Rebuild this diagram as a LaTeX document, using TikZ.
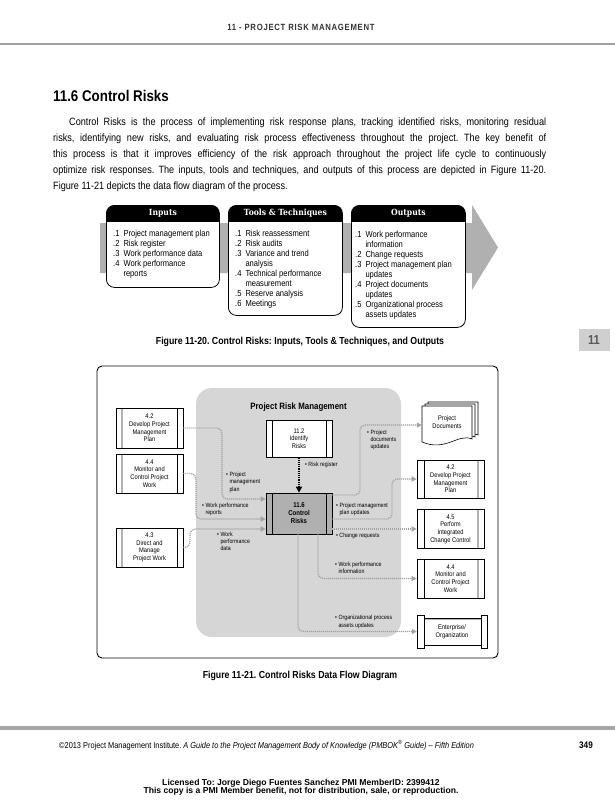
\documentclass[tikz,border=0pt]{standalone}
\usepackage{fontspec}
\setmainfont{Liberation Sans}[FakeStretch=0.86]
\newfontfamily\slabf{DejaVu Serif}[FakeStretch=0.9]
\newfontfamily\wideSans{Liberation Sans}
\usetikzlibrary{arrows.meta}
\frenchspacing
\newcommand\blt[1]{{\renewcommand\arraystretch{1}\begin{tabular}{@{}l@{\hspace{1.5pt}}l@{}}#1\end{tabular}}}
\newcommand\itto[1]{{\renewcommand\arraystretch{1}\begin{tabular}{@{}l@{\hspace{4pt}}l@{}}#1\end{tabular}}}
\begin{document}
\begin{tikzpicture}[x=1pt,y=-1pt,
  dfd/.style={font=\fontsize{6.7}{7.7}\selectfont},
  proc/.style={draw, line width=0.6pt, fill=white, minimum width=67pt, minimum height=39pt, inner sep=0pt, align=center, dfd},
  lproc/.style={proc, path picture={
      \draw[gray!60, line width=1.3pt] ([xshift=6pt]path picture bounding box.north west) -- ([xshift=6pt]path picture bounding box.south west);
      \draw[line width=0.6pt] ([xshift=-6pt]path picture bounding box.north east) -- ([xshift=-6pt]path picture bounding box.south east);}},
  rproc/.style={proc, path picture={
      \draw[line width=0.6pt] ([xshift=7pt]path picture bounding box.north west) -- ([xshift=7pt]path picture bounding box.south west);
      \draw[gray!60, line width=1.3pt] ([xshift=-6pt]path picture bounding box.north east) -- ([xshift=-6pt]path picture bounding box.south east);}},
  iproc/.style={proc, minimum width=66pt, path picture={
      \draw[line width=0.6pt] ([xshift=6pt]path picture bounding box.north west) -- ([xshift=6pt]path picture bounding box.south west);
      \draw[line width=0.6pt] ([xshift=-6pt]path picture bounding box.north east) -- ([xshift=-6pt]path picture bounding box.south east);}},
  flow/.style={draw=gray!72, line width=1.3pt, dash pattern=on 1.1pt off 0.9pt, rounded corners=5pt, -{Triangle[length=5pt,width=5pt]}},
  lbl/.style={anchor=west, inner sep=0pt, font=\fontsize{6.1}{7.4}\selectfont},
  ittobox/.style={draw, line width=0.8pt, rounded corners=8pt, fill=white, anchor=north west, inner sep=0pt,
      path picture={\fill[black, sharp corners] (path picture bounding box.north west) rectangle ([yshift=-17pt]path picture bounding box.north east);}},
  ittohead/.style={text=white, font=\slabf\bfseries\fontsize{8.5}{9}\selectfont, inner sep=0pt},
  ittotext/.style={anchor=north west, inner sep=0pt, font=\fontsize{8.8}{10}\selectfont},
]
\useasboundingbox (0,0) rectangle (615,800);
\fill[white] (0,0) rectangle (615,800);

% header
\node[font=\bfseries\fontsize{9}{10}\selectfont\addfontfeature{LetterSpace=8}, text=black!80] (hdr) at (301,27) {11 - PROJECT RISK MANAGEMENT};
\draw[gray!75, line width=2pt] (0,44) -- (615,44);

% title and paragraph
\node[anchor=west, font=\bfseries\fontsize{15.5}{17}\selectfont, inner sep=0pt] (ttl) at (53,96) {11.6 Control Risks};
\node[anchor=north west, inner sep=0pt, align=left, font=\fontsize{10.6}{16}\selectfont] (para) at (53,117.5) {%
\makebox[493pt][s]{\hspace*{16pt}Control Risks is the process of implementing risk response plans, tracking identified risks, monitoring residual}\\
\makebox[493pt][s]{risks, identifying new risks, and evaluating risk process effectiveness throughout the project. The key benefit of}\\
\makebox[493pt][s]{this process is that it improves efficiency of the risk approach throughout the project life cycle to continuously}\\
\makebox[493pt][s]{optimize risk responses. The inputs, tools and techniques, and outputs of this process are depicted in Figure 11-20.}\\
Figure 11-21 depicts the data flow diagram of the process.};

% ITTO figure
\fill[gray!62] (100,223) -- (472,223) -- (472,205) -- (498,247.5) -- (472,290) -- (472,273) -- (100,273) -- cycle;
\node[ittobox, minimum width=113pt, minimum height=82pt] (inb) at (106,205) {};
\node[ittobox, minimum width=114pt, minimum height=110pt] (tlb) at (228,205) {};
\node[ittobox, minimum width=114pt, minimum height=122pt] (outb) at (351,205) {};
\node[ittohead] (inh) at ([yshift=-8.5pt]inb.north) {Inputs};
\node[ittohead] (tlh) at ([yshift=-8.5pt]tlb.north) {Tools \& Techniques};
\node[ittohead] (outh) at ([yshift=-8.5pt]outb.north) {Outputs};
\node[ittotext] (intx) at (113,229) {\itto{.1 & Project management plan\\ .2 & Risk register\\ .3 & Work performance data\\ .4 & Work performance\\ & reports}};
\node[ittotext] (tltx) at (235,229) {\itto{.1 & Risk reassessment\\ .2 & Risk audits\\ .3 & Variance and trend\\ & analysis\\ .4 & Technical performance\\ & measurement\\ .5 & Reserve analysis\\ .6 & Meetings}};
\node[ittotext] (outtx) at (355,230) {\itto{.1 & Work performance\\ & information\\ .2 & Change requests\\ .3 & Project management plan\\ & updates\\ .4 & Project documents\\ & updates\\ .5 & Organizational process\\ & assets updates}};
\node[font=\bfseries\fontsize{10.2}{12}\selectfont] (cap1) at (300,342) {Figure 11-20. Control Risks: Inputs, Tools \& Techniques, and Outputs};
\node[fill=gray!38, minimum width=31pt, minimum height=22pt, text=black!65, font=\bfseries\fontsize{13}{14}\selectfont, inner sep=0pt] (tab) at (594,340) {11};

% DFD
\draw[line width=0.9pt, rounded corners=5pt] (97,366) rectangle (498,658);
\fill[gray!32, rounded corners=16pt] (196,388) rectangle (401,637);
\node[font=\bfseries\fontsize{9.2}{10}\selectfont] (prm) at (298.5,407) {Project Risk Management};

\node[iproc, minimum height=37pt] (id) at (299,438.5) {11.2\\Identify\\Risks};
\node[iproc, minimum height=41pt, fill=gray!62, font=\bfseries\fontsize{7}{8}\selectfont] (cr) at (299,513.5) {11.6\\Control\\Risks};

\node[lproc, minimum height=40pt] (dl42) at (149.5,428) {4.2\\Develop Project\\Management\\Plan};
\node[lproc] (ml44) at (149.5,473.5) {4.4\\Monitor and\\Control Project\\Work};
\node[lproc] (dl43) at (149.5,547.5) {4.3\\Direct and\\Manage\\Project Work};

\node[rproc, minimum height=38pt] (dr42) at (450.5,479) {4.2\\Develop Project\\Management\\Plan};
\node[rproc] (pr45) at (450.5,529) {4.5\\Perform\\Integrated\\Change Control};
\node[rproc] (mr44) at (450.5,578.5) {4.4\\Monitor and\\Control Project\\Work};

% project documents stack
\filldraw[fill=white, line width=0.6pt] (428,402) -- (478,402) -- (478,435) .. controls (464,429) and (452,448) .. (428,438) -- cycle;
\filldraw[fill=white, line width=0.6pt] (425,404) -- (475,404) -- (475,437) .. controls (461,431) and (449,450) .. (425,440) -- cycle;
\filldraw[fill=white, line width=0.6pt] (422,406) -- (472,406) -- (472,439) .. controls (458,433) and (446,452) .. (422,442) -- cycle;
\node[dfd, align=center, minimum width=50pt, minimum height=36pt, inner sep=0pt] (pdoc) at (447,422) {Project\\Documents};

% enterprise
\filldraw[fill=white, line width=0.6pt] (424,618) rectangle (481,645);
\draw[gray!60, line width=1.3pt] (424,619.5) -- (481,619.5);
\filldraw[fill=white, line width=0.6pt] (417,615) rectangle (424,648);
\filldraw[fill=white, line width=0.6pt] (481,615) rectangle (487,648);
\node[dfd, align=center, minimum width=70pt, minimum height=33pt, inner sep=0pt] (ent) at (452,631.5) {Enterprise/\\Organization};

% connectors
\draw[line width=1.5pt, dash pattern=on 1.2pt off 1pt, -{Triangle[length=6pt,width=6pt]}] (id.south) -- (cr.north);
\draw[flow] (dl42.east) -- (222,428) -- (222,499) -- ([yshift=14.5pt]cr.west);
\draw[flow] (ml44.east) -- (196,473.5) -- (196,519) -- ([yshift=-5.5pt]cr.west);
\draw[flow] (dl43.east) -- (190,547.5) -- (190,529) -- ([yshift=-15.5pt]cr.west);
\draw[flow] ([yshift=18.5pt]cr.east) -- (360,495) -- (360,425) -- ([yshift=-3pt]pdoc.west);
\draw[flow] ([yshift=-5.5pt]cr.east) -- (392,519) -- (392,479) -- (dr42.west);
\draw[flow] ([yshift=-15.5pt]cr.east) -- (pr45.west);
\draw[flow] ([xshift=19pt]cr.south) -- (318,578.5) -- (mr44.west);
\draw[flow] ([xshift=-1pt]cr.south) -- (298,631.5) -- (ent.west);

% labels
\node[lbl] (l1) at (305,465) {\textbullet\ Risk register};
\node[lbl] (l2) at (226,482.5) {\blt{\textbullet & Project\\ & management\\ & plan}};
\node[lbl] (l3) at (202,509.5) {\blt{\textbullet & Work performance\\ & reports}};
\node[lbl] (l4) at (217,542) {\blt{\textbullet & Work\\ & performance\\ & data}};
\node[lbl] (l5) at (367,440) {\blt{\textbullet & Project\\ & documents\\ & updates}};
\node[lbl] (l6) at (336,509.5) {\blt{\textbullet & Project management\\ & plan updates}};
\node[lbl] (l7) at (336,536) {\textbullet\ Change requests};
\node[lbl] (l8) at (335,568.5) {\blt{\textbullet & Work performance\\ & information}};
\node[lbl] (l9) at (335,622) {\blt{\textbullet & Organizational process\\ & assets updates}};

\node[font=\bfseries\fontsize{10.2}{12}\selectfont] (cap2) at (300,676) {Figure 11-21. Control Risks Data Flow Diagram};

% footer
\fill[gray!70] (0,726) rectangle (615,730);
\node[anchor=west, font=\fontsize{8.6}{10}\selectfont, inner sep=0pt] (foot) at (59,745) {©2013 Project Management Institute. \textit{A Guide to the Project Management Body of Knowledge (PMBOK\textsuperscript{®} Guide) – Fifth Edition}};
\node[anchor=east, font=\bfseries\fontsize{9.5}{10}\selectfont, inner sep=0pt] (pg) at (593,745) {349};
\node[font=\wideSans\bfseries\fontsize{8.6}{8.2}\selectfont, align=center, inner sep=0pt] (lic) at (301,787) {Licensed To: Jorge Diego Fuentes Sanchez PMI MemberID: 2399412\\This copy is a PMI Member benefit, not for distribution, sale, or reproduction.};
\end{tikzpicture}
\end{document}
